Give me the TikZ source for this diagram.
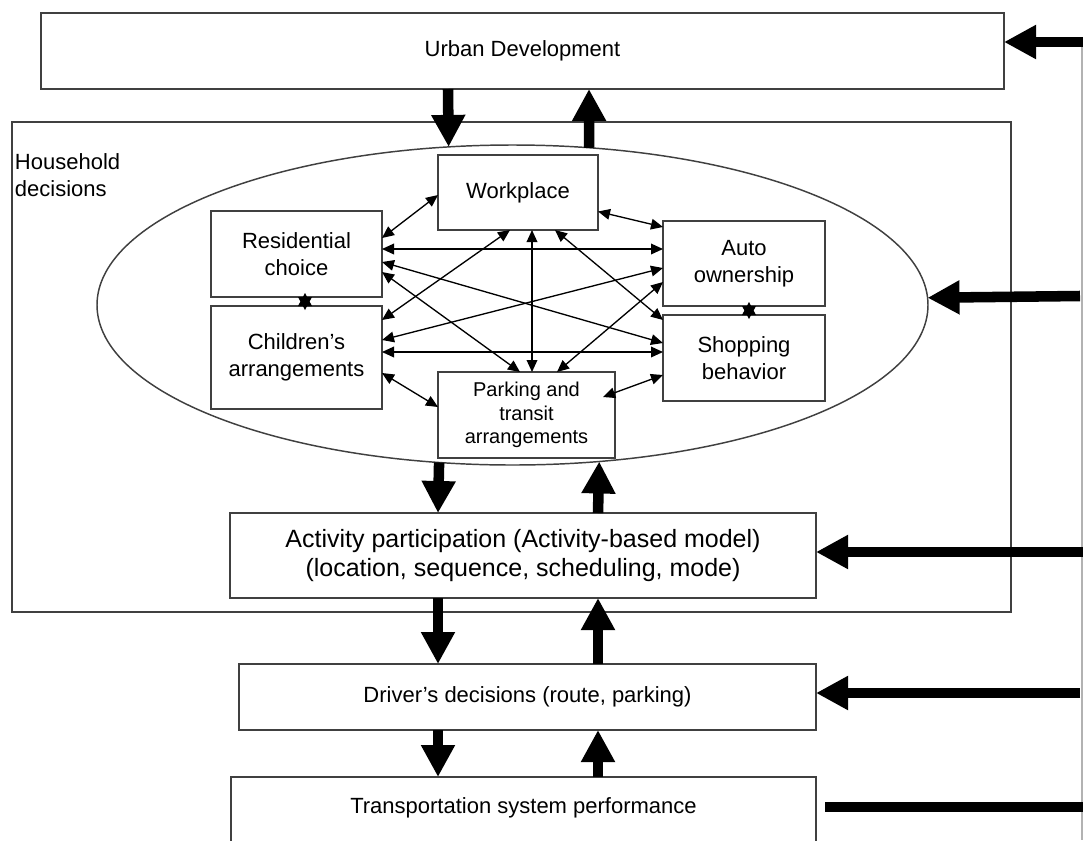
\documentclass[tikz,border=0pt]{standalone}
\usepackage{fontspec}
\setmainfont{Liberation Sans}
\usetikzlibrary{arrows.meta,shapes.geometric,calc}
\begin{document}
\begin{tikzpicture}[x=0.75pt,y=-0.75pt,
  box/.style={draw=black!75, line width=1.1pt, fill=white, inner sep=0pt, outer sep=0pt, align=center, font=\fontsize{16.5}{20.25}\selectfont},
  bigarrow/.style={line width=7.9pt, -{Triangle[length=24pt,width=24pt]}},
  link/.style={line width=1pt, {Triangle[length=9pt,width=8pt]}-{Triangle[length=9pt,width=8pt]}},
  txt/.style={inner sep=0pt, outer sep=0pt, align=center, font=\fontsize{16.5}{20.25}\selectfont}
]
\useasboundingbox (0,0) rectangle (1083,840);
\fill[white] (0,0) rectangle (1083,840);
\clip (0,0) rectangle (1083,840);

% outer boxes
\node[box, minimum width=722.25pt, minimum height=57pt] (U) at (522.5,51) {Urban Development};
\node[box, fill=none, minimum width=749.25pt, minimum height=367.5pt] (H) at (511.5,367) {};
\node[txt, anchor=west, align=left] (Hl) at (15,175) {Household\\decisions};
\node[draw=black!75, line width=1.1pt, ellipse, inner sep=0pt, outer sep=0pt, minimum width=623.25pt, minimum height=240pt] (E) at (512.5,305) {};

% inner boxes
\node[box, minimum width=120pt, minimum height=56.25pt] (W) at (518,192.5) {Workplace};
\node[box, minimum width=128.25pt, minimum height=64.5pt] (R) at (296.5,254) {Residential\\choice};
\node[box, minimum width=128.25pt, minimum height=77.25pt] (C) at (296.5,357.5) {Children's\\arrangements};
\node[box, minimum width=132.75pt, minimum height=64.5pt, font=\fontsize{15}{17.6}\selectfont] (P) at (526.5,415) {Parking and\\transit\\arrangements};
\node[box, minimum width=121.5pt, minimum height=63.75pt] (A) at (744,263.5) {Auto\\ownership};
\node[box, minimum width=121.5pt, minimum height=64.5pt] (S) at (744,358) {Shopping\\behavior};

% lower boxes
\node[box, minimum width=439.5pt, minimum height=63.75pt, font=\fontsize{18.75}{21.75}\selectfont] (Act) at (523,555.5) {Activity participation (Activity-based model)\\(location, sequence, scheduling, mode)};
\node[box, minimum width=432.75pt, minimum height=49.5pt] (D) at (527.5,697) {Driver's decisions (route, parking)};
\node[box, minimum width=438.75pt, minimum height=75pt] (T) at (523.5,827) {};
\node[txt] (Tt) at (523.5,808) {Transportation system performance};

% inner links
\draw[link] ($(R.east)+(0,-16)$) -- ($(W.west)+(0,2.5)$);
\draw[link] ($(R.east)+(0,-5)$) -- ($(A.west)+(0,-14.5)$);
\draw[link] ($(R.east)+(0,8)$) -- ($(S.west)+(0,-15)$);
\draw[link] ($(R.east)+(0,18)$) -- ($(P.north)+(-6.5,0)$);
\draw[link] ($(W.south)+(-8,0)$) -- ($(C.east)+(0,-37.5)$);
\draw[link] ($(W.south)+(14,0)$) -- ($(P.north)+(5.5,0)$);
\draw[link] ($(W.south)+(37,0)$) -- ($(S.west)+(0,-38)$);
\draw[link] ($(W.east)+(0,19)$) -- ($(A.west)+(0,-36.5)$);
\draw[link] ($(C.east)+(0,-17.5)$) -- ($(A.west)+(0,4.5)$);
\draw[link] ($(C.east)+(0,-5.5)$) -- ($(S.west)+(0,-6)$);
\draw[link] ($(C.east)+(0,15.5)$) -- ($(P.west)+(0,-8)$);
\draw[link] ($(P.north)+(30.5,0)$) -- ($(A.west)+(0,18.5)$);
\draw[link] ($(P.east)+(-12,-18)$) -- ($(S.west)+(0,17)$);

% star joints (two opposed arrowheads)
\fill ($(R.south)+(8.5,-4)$) -- ($(C.north)+(15.5,0)$) -- ($(C.north)+(1.5,0)$) -- cycle;
\fill ($(C.north)+(8.5,4)$) -- ($(R.south)+(15.5,0)$) -- ($(R.south)+(1.5,0)$) -- cycle;
\fill ($(A.south)+(5,-4)$) -- ($(S.north)+(12,0)$) -- ($(S.north)+(-2,0)$) -- cycle;
\fill ($(S.north)+(5,4)$) -- ($(A.south)+(12,0)$) -- ($(A.south)+(-2,0)$) -- cycle;

% vertical thick arrows
\draw[bigarrow] ($(U.south)+(-74.5,0)$) -- (E.112.2);
\draw[bigarrow] (E.64.06) -- ($(U.south)+(66.5,0)$);
\draw[bigarrow] (E.-115.33) -- ($(Act.north)+(-85,0)$);
\draw[bigarrow] ($(Act.north)+(75,0)$) -- (E.-61.36);
\draw[bigarrow] ($(Act.south)+(-85,0)$) -- ($(D.north)+(-89.5,0)$);
\draw[bigarrow] ($(D.north)+(70.5,0)$) -- ($(Act.south)+(75,0)$);
\draw[bigarrow] ($(D.south)+(-89.5,0)$) -- ($(T.north)+(-85.5,0)$);
\draw[bigarrow] ($(T.north)+(74.5,0)$) -- ($(D.south)+(70.5,0)$);

% right-hand feedback
\coordinate (g1) at (1082,42);
\coordinate (g2) at (1082,840);
\draw[black!30, line width=1.1pt] (g1) -- (g2);
\coordinate (rU) at (1083,42);
\coordinate (rE) at (1080,296);
\coordinate (rA) at (1083,552);
\coordinate (rD) at (1080,693);
\coordinate (rT) at (1083,807);
\draw[bigarrow] (rU) -- ($(U.east)+(0,-9)$);
\draw[bigarrow] (rE) -- (E.1.24);
\draw[bigarrow] (rA) -- ($(Act.east)+(0,-3.5)$);
\draw[bigarrow] (rD) -- ($(D.east)+(0,-4)$);
\draw[line width=7.9pt] ($(T.east)+(9,-20)$) -- (rT);
\end{tikzpicture}
\end{document}
